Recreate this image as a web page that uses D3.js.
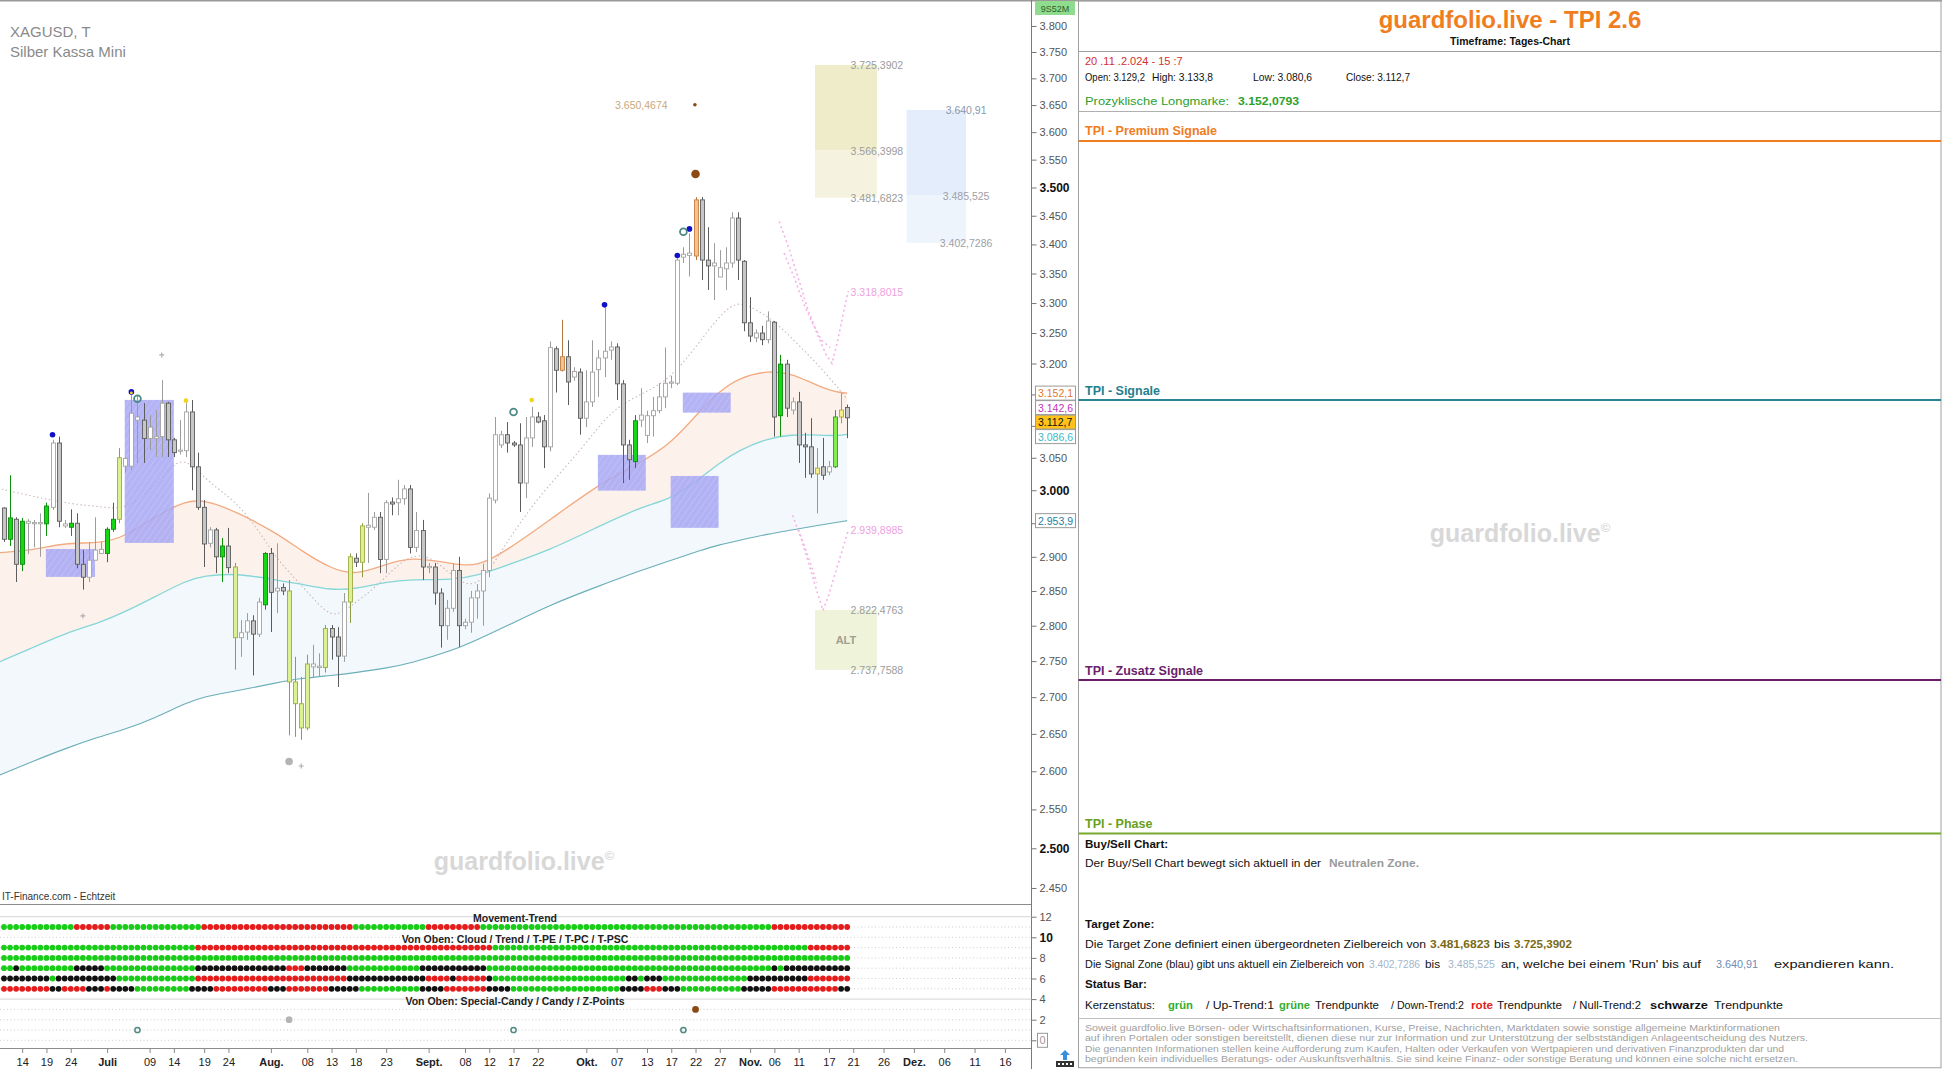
<!DOCTYPE html>
<html>
<head>
<meta charset="utf-8">
<script src="https://cdn.jsdelivr.net/npm/d3@7/dist/d3.min.js"></script>
<style>
html,body{margin:0;padding:0;background:#fff;}
svg{display:block;}
text{font-family:"Liberation Sans",Arial,Helvetica,sans-serif;}
.nar{font-family:"Liberation Sans Narrow","Arial Narrow","Liberation Sans",Arial,sans-serif;}
.pre{white-space:pre;}
</style>
</head>
<body>
<svg id="c" width="1942" height="1069"></svg>
<script>
// ================= DATA =================
// candle k = trading bar index (0 = 12.06.2024 ... 139 = 20.11.2024)
const candleOpen = [2973,2926,2956,2889,2950,2951,2950,2949,2974,3073,
 2949,2944,2950,2889,2870,2895,2905,2905,2941,2956,
 3037,3037,3109,3109,3080,3080,3083,3136,3078,3061,
 3061,3122,3036,2974,2920,2940,2900,2916,2885,2783,
 2791,2807,2788,2830,2905,2850,2855,2850,2721,2691,
 2658,2742,2741,2741,2796,2784,2757,2834,2898,2892,
 2944,2944,2959,2896,2982,2981,2987,3002,2914,2939,
 2886,2885,2847,2800,2825,2880,2800,2805,2840,2850,
 2880,2985,3070,3086,3073,3070,3011,3081,3114,3108,
 3067,3224,3189,3211,3178,3186,3112,3138,3190,3209,
 3222,3227,3167,3070,3044,3109,3085,3116,3124,3146,
 3168,3168,3378,3381,3380,3478,3373,3363,3344,3358,
 3368,3446,3371,3267,3242,3250,3239,3268,3116,3199,
 3125,3138,3070,3067,3025,3036,3028,3036,3114,3129.2];
const candleHigh = [2974,3023,2959,2958,2956,2955,2965,2981,3078,3083,
 2955,2971,2965,2910,2922,2959,2922,2944,2981,3065,
 3051,3149,3149,3136,3117,3125,3173,3138,3081,3109,
 3136,3141,3058,2985,2944,2943,2928,2943,2891,2808,
 2818,2815,2840,2907,2913,2920,2861,2866,2756,2728,
 2759,2773,2761,2801,2801,2798,2847,2905,2905,2950,
 2996,2967,2967,2985,2989,3016,3008,3008,2967,2955,
 2891,2891,2854,2837,2890,2900,2810,2850,2860,2890,
 2995,3114,3092,3106,3076,3104,3114,3130,3122,3117,
 3236,3228,3272,3238,3194,3192,3189,3238,3222,3293,
 3236,3233,3173,3078,3117,3160,3124,3146,3168,3226,
 3180,3376,3395,3419,3483,3483,3430,3402,3390,3395,
 3456,3456,3373,3310,3256,3262,3286,3270,3214,3206,
 3145,3154,3089,3112,3065,3081,3045,3125,3152,3133.8];
const candleLow = [2922,2916,2863,2879,2904,2914,2900,2931,2970,2944,
 2943,2931,2883,2852,2863,2895,2905,2892,2937,2950,
 3027,3031,3042,3042,3062,3051,3051,3051,3051,3055,
 3051,3000,2970,2885,2914,2876,2863,2876,2738,2756,
 2780,2730,2784,2823,2791,2818,2844,2648,2646,2642,
 2655,2727,2728,2734,2752,2714,2749,2804,2885,2870,
 2891,2940,2876,2876,2962,2962,2978,2905,2907,2866,
 2876,2830,2769,2780,2820,2770,2795,2790,2810,2800,
 2870,2980,3065,3058,3067,2967,2988,3067,3104,3034,
 3060,3153,3187,3133,3172,3086,3098,3130,3146,3178,
 3206,3141,3011,3016,3034,3098,3073,3083,3120,3128,
 3160,3165,3368,3345,3373,3339,3322,3305,3344,3322,
 3360,3339,3253,3235,3235,3230,3233,3083,3083,3114,
 3118,3042,3019,3019,2965,3016,3023,3034,3104,3080.6];
const candleClose = [2926,2958,2889,2953,2953,2950,2951,2976,3073,2953,
 2946,2950,2889,2870,2895,2910,2911,2941,2956,3050,
 3049,3120,3114,3080,3098,3083,3136,3078,3058,3062,
 3122,3036,2974,2919,2940,2900,2916,2884,2783,2790,
 2807,2788,2834,2905,2848,2854,2850,2721,2691,2658,
 2746,2746,2743,2796,2784,2757,2834,2900,2892,2946,
 2947,2959,2896,2981,2979,2987,3002,2914,2939,2885,
 2884,2847,2800,2825,2880,2800,2805,2840,2850,2880,
 2988,3086,3086,3073,3070,3011,3081,3114,3106,3067,
 3226,3189,3211,3170,3187,3112,3138,3186,3209,3220,
 3227,3167,3070,3047,3108,3117,3116,3124,3146,3168,
 3170,3373,3383,3385,3478,3373,3363,3368,3360,3368,
 3446,3373,3267,3245,3250,3239,3270,3114,3199,3128,
 3138,3070,3067,3025,3034,3023,3036,3114,3125,3112.7];
// candle colour class per bar (D grey, W white, G green, g light green, Y yellow-green, L yellow, O orange)
const candleClass = "DGDGWWWGWD"+"WGDDWWWGGY"+"WWWDWWWDDW"+"WDDDWDGDYW"+"WDWGDWDYYY"+
  "YWWYDDWYDY"+"WWDWDWWDWD"+"WDDWWDWWWW"+"WWWDDDWWDD"+"WDODWDWWWW"+
  "WDDDGWWWWW"+"WWWWODDWWW"+"WDDDWDWDGD"+"WDDDLDWgLD";

// moving averages sampled at bar positions
const maK        = [-1,5,10,16,20,25,30,33,38,45,49,54,58,63,67,74,78,83,90,98,105,110,115,118,121,126,130,133,137,139];
const maOrange   = [2906,2910,2921,2920,2930,2961,2984,2985,2969,2935,2909,2882,2873,2889,2900,2890,2885,2910,2955,3009,3043,3072,3127,3155,3176,3189,3183,3169,3153,3152.1];
const maTealUp   = [2748,2770,2789,2805,2820,2842,2865,2872,2876,2866,2860,2851,2853,2863,2867,2866,2872,2888,2910,2945,2975,2986,3020,3042,3061,3081,3086,3086,3084,3086.6];
const maTealLow  = [2594,2614,2630,2647,2656,2672,2692,2701,2708,2720,2726,2730,2734,2740,2747,2765,2780,2800,2830,2857,2880,2895,2910,2918,2924,2934,2940,2945,2951,2953.9];
const dotMaK     = [-1,5,11,16,20,24,27,29,31,34,38,42,45,50,54,57,62,66,70,74,78,82,88,95,100,105,110,115,120,123,127,131,135,139];
const dotMaVal   = [3003,2990,2979,2975,2970,3000,3030,3047,3040,3010,2985,2940,2895,2850,2808,2827,2860,2900,2905,2870,2850,2910,2990,3060,3125,3150,3175,3240,3305,3295,3271,3230,3190,3142.6];

// projection paths (pink dotted)
const pinkUpperA = [[127.8,3440],[129.5,3390],[131,3340],[132.5,3290],[134,3250],[135.5,3215],[136.5,3200],[137.5,3240],[138.5,3290],[139.2,3320]];
const pinkUpperB = [[128.6,3385],[130.2,3345],[131.8,3300],[133.2,3268],[134.8,3238],[136.2,3226]];
const pinkLowerA = [[130,2962],[131.5,2925],[133,2880],[134,2850],[135,2822],[136,2845],[137,2875],[138.2,2910],[139.2,2940]];
const pinkLowerB = [[131,2940],[132.5,2902],[134,2862]];

// zones (bar range + price levels)
const targetZoneK = [133.7,143.9], targetZoneLevels = [3481.6823,3566.3998,3725.3902];
const signalZoneK = [148.8,158.6], signalZoneLevels = [3402.7286,3485.525,3640.91];
const altZoneK    = [133.7,143.9], altZoneLevels    = [2737.7588,2822.4763];
const pinkLevels  = [3318.8015,2939.8985];
const markLevel   = {k:113.9, v:3650.4674};
// supply/demand boxes [k0,k1,lowPrice,highPrice]
const blueBoxes = [[6.9,15,2870.5,2911.6],[19.9,28,2920.6,3141.2],[97.9,105.8,2999.4,3054.5],[111.9,119.8,3120.9,3152.9],[109.9,117.8,2943.1,3021.9]];

// markers [k, price]
const blueDots   = [[8,3086],[21,3154],[99,3297],[111,3381],[113,3427]];
const yellowDots = [[30,3140],[87,3141]];
const zPointsPx  = [[22,3143],[84,3122],[112,3422]];
const brownBig   = [[114,3524]];
const greyDots   = [[47,2613]];
const crosses    = [[13,2814],[26,3214],[49,2607]];

// price axis
const priceTicks = d3.range(2450,3801,50);
const priceBoxes = [
  {v:3152.1, fg:"#e0782c", bg:"#ffffff"},
  {v:3142.6, fg:"#c034c0", bg:"#ffffff"},
  {v:3112.7, fg:"#111111", bg:"#ffc21c"},
  {v:3086.6, fg:"#3cb8c6", bg:"#ffffff"},
  {v:2953.9, fg:"#2a7ea0", bg:"#ffffff"}];

// date axis
const dateTickK = [3,7,11,17,24,28,33,37,44,50,54,58,63,70,76,80,84,88,96,101,106,110,114,118,123,127,131,136,140,145,150,155,160,165];
const dateTickLabels = ["14","19","24","Juli","09","14","19","24","Aug.","08","13","18","23","Sept.","08","12","17","22","Okt.","07","13","17","22","27","Nov.","06","11","17","21","26","Dez.","06","11","16"];
const monthLabels = ["Juli","Aug.","Sept.","Okt.","Nov.","Dez."];

// status bar rows (run-length: colour, count of bars)
const movementRuns = [["G",12],["R",6],["G",15],["R",25],["G",12],["R",9],["G",48],["R",13]];
const cloudRuns    = [["G",32],["R",49],["G",52],["R",7]];
const trendRuns    = [["G",140]];
const tpeRuns      = [["G",2],["B",1],["G",9],["B",5],["G",15],["B",15],["R",3],["B",7],["G",12],["B",11],["G",47],["B",1],["G",1],["B",11]];
const tpcRuns      = [["B",8],["G",1],["B",10],["G",13],["R",25],["B",13],["R",4],["B",1],["R",5],["B",1],["G",22],["B",2],["G",1],["B",3],["G",14],["B",10],["R",7]];
const tpscRuns     = [["R",8],["B",2],["R",4],["B",3],["R",1],["B",4],["G",9],["B",4],["R",9],["B",3],["R",7],["B",5],["G",10],["B",4],["R",7],["B",4],["G",18],["B",4],["R",3],["B",3],["G",10],["B",5],["R",11],["B",2]];
const statusRowLevels = [11,9,8,7,6,5];
const indTicks = [0,2,4,6,8,10,12];

// ================= RENDER =================
const loc = d3.formatLocale({decimal:",", thousands:".", grouping:[3], currency:["",""]});
const fmt0 = loc.format(",.0f"), fmt1 = loc.format(",.1f"), fmt4 = loc.format(",.4f");
const fmtTrim = v => fmt4(v).replace(/0+$/,"").replace(/,$/,"");

const svg = d3.select("#c");
svg.append("rect").attr("width",1942).attr("height",1069).attr("fill","#fff");

const x  = d3.scaleLinear().domain([0,165]).range([4, 4+6.066*165]);
const y  = d3.scaleLog().domain([2430.1,3850.6]).range([904,0]);
const yi = d3.scaleLinear().domain([0,12]).range([1040.3,916.7]);
const AX = 1031.5;

const defs = svg.append("defs");
defs.append("clipPath").attr("id","pc").append("rect").attr("x",0).attr("y",1).attr("width",AX).attr("height",903);
const g = svg.append("g").attr("clip-path","url(#pc)");

// title
svg.append("text").attr("x",10).attr("y",37).attr("font-size",15).attr("fill","#8a8a8a").text("XAGUSD, T");
svg.append("text").attr("x",10).attr("y",57).attr("font-size",15).attr("fill","#8a8a8a").text("Silber Kassa Mini");

// watermark
function watermark(cx, by){
  const t = svg.append("text").attr("x",cx).attr("y",by).attr("text-anchor","middle")
    .attr("font-size",25).attr("font-weight","bold").attr("fill","#d8d8d8");
  t.append("tspan").text("guardfolio.live");
  t.append("tspan").attr("font-size",13).attr("dy",-10).text("©");
}
watermark(524, 870);
watermark(1520, 542);

// cloud fills (faint)
const idx = d3.range(maK.length);
g.append("path").datum(idx).attr("fill","#fdf1ec")
  .attr("d", d3.area().curve(d3.curveBasis).x(i=>x(maK[i])).y0(i=>y(maTealUp[i])).y1(i=>y(maOrange[i])));
g.append("path").datum(idx).attr("fill","#f2f8fb")
  .attr("d", d3.area().curve(d3.curveBasis).x(i=>x(maK[i])).y0(i=>y(maTealLow[i])).y1(i=>y(maTealUp[i])));
function maLine(vals, col, w){
  g.append("path").datum(idx).attr("fill","none").attr("stroke",col).attr("stroke-width",w)
   .attr("d", d3.line().curve(d3.curveBasis).x(i=>x(maK[i])).y(i=>y(vals[i])));
}
maLine(maTealLow,"#6aaeb9",1.1);
maLine(maTealUp,"#86d6d8",1.3);
maLine(maOrange,"#f2ab80",1.3);
g.append("path").datum(d3.range(dotMaK.length)).attr("fill","none").attr("stroke","#cdb8b8").attr("stroke-width",1.1)
  .attr("stroke-dasharray","1.5,2.5")
  .attr("d", d3.line().curve(d3.curveBasis).x(i=>x(dotMaK[i])).y(i=>y(dotMaVal[i])));

// blue boxes
const hatch = defs.append("pattern").attr("id","hatch").attr("patternUnits","userSpaceOnUse").attr("width",5).attr("height",5).attr("patternTransform","rotate(35)");
hatch.append("rect").attr("width",5).attr("height",5).attr("fill","#a6a6f3");
hatch.append("line").attr("x1",0).attr("y1",0).attr("x2",0).attr("y2",5).attr("stroke","#bcbcf7").attr("stroke-width",1.2);
g.selectAll(".bbox").data(blueBoxes).join("rect").attr("class","bbox")
  .attr("x",d=>x(d[0])).attr("width",d=>x(d[1])-x(d[0]))
  .attr("y",d=>y(d[3])).attr("height",d=>y(d[2])-y(d[3]))
  .attr("fill","url(#hatch)").attr("opacity",0.85);

// zones
function zoneRect(kr, lo, hi, fill){
  g.append("rect").attr("x",x(kr[0])).attr("width",x(kr[1])-x(kr[0])).attr("y",y(hi)).attr("height",y(lo)-y(hi)).attr("fill",fill);
}
zoneRect(targetZoneK, targetZoneLevels[1], targetZoneLevels[2], "#efecc9");
zoneRect(targetZoneK, targetZoneLevels[0], targetZoneLevels[1], "#f5f3df");
zoneRect(signalZoneK, signalZoneLevels[1], signalZoneLevels[2], "#e3edfb");
zoneRect(signalZoneK, signalZoneLevels[0], signalZoneLevels[1], "#eef4fc");
zoneRect(altZoneK, altZoneLevels[0], altZoneLevels[1], "#eff3d9");
g.append("text").attr("x",(x(altZoneK[0])+x(altZoneK[1]))/2).attr("y",y(2780)+4).attr("text-anchor","middle")
  .attr("font-size",11).attr("font-weight","bold").attr("fill","#a0a090").text("ALT");

// pink projections
[pinkUpperA,pinkUpperB,pinkLowerA,pinkLowerB].forEach(p=>{
  g.append("path").datum(p).attr("fill","none").attr("stroke","#f3b4e6").attr("stroke-width",1.6).attr("stroke-dasharray","2,3")
   .attr("d", d3.line().x(d=>x(d[0])).y(d=>y(d[1])));
});

function levelLabel(k, v, col, anchor){
  g.append("text").attr("x",x(k)).attr("y",y(v)+4).attr("text-anchor",anchor||"middle")
   .attr("font-size",10.5).attr("fill",col).text(fmtTrim(v));
}
targetZoneLevels.forEach(v=>levelLabel(targetZoneK[1],v,"#9c9c9c"));
altZoneLevels.forEach(v=>levelLabel(altZoneK[1],v,"#9c9c9c"));
signalZoneLevels.forEach((v,i)=>levelLabel(signalZoneK[1],v, i===2?"#8a9ab0":"#a0a0a8"));
pinkLevels.forEach(v=>levelLabel(targetZoneK[1],v,"#ee9fe0"));
levelLabel(markLevel.k-4.5, markLevel.v, "#c9a87c", "end");
g.append("circle").attr("cx",x(markLevel.k)).attr("cy",y(markLevel.v)).attr("r",1.8).attr("fill","#8b4a14");

// candles
const CS = {
  D:{f:"#c6c6c6",s:"#5c5c5c",w:"#5c5c5c"},
  W:{f:"#ffffff",s:"#a4a4a4",w:"#9c9c9c"},
  G:{f:"#16d716",s:"#0b8a0b",w:"#0b920b"},
  g:{f:"#80ee4c",s:"#3b9a22",w:"#3b9a22"},
  Y:{f:"#dcf292",s:"#9dab45",w:"#8f9d45"},
  L:{f:"#f5f08c",s:"#b0a844",w:"#a6a044"},
  O:{f:"#f9c18a",s:"#c08046",w:"#b8763e"}};
const bars = d3.range(candleOpen.length);
const cg = g.append("g");
cg.selectAll(".wick").data(bars).join("line").attr("class","wick")
  .attr("x1",k=>Math.round(x(k))+0.5).attr("x2",k=>Math.round(x(k))+0.5)
  .attr("y1",k=>y(candleHigh[k])).attr("y2",k=>y(candleLow[k]))
  .attr("stroke",k=>CS[candleClass[k]].w).attr("stroke-width",1);
cg.selectAll(".body").data(bars).join("rect").attr("class","body")
  .attr("x",k=>Math.round(x(k))-1.5).attr("width",4)
  .attr("y",k=>y(Math.max(candleOpen[k],candleClose[k])))
  .attr("height",k=>Math.max(1.2, y(Math.min(candleOpen[k],candleClose[k]))-y(Math.max(candleOpen[k],candleClose[k]))))
  .attr("fill",k=>CS[candleClass[k]].f).attr("stroke",k=>CS[candleClass[k]].s).attr("stroke-width",0.9);

// markers
g.selectAll(".bd").data(blueDots).join("circle").attr("cx",d=>x(d[0])).attr("cy",d=>y(d[1])).attr("r",2.8).attr("fill","#1010c8");
g.append("circle").attr("cx",x(21)).attr("cy",y(3154)+1).attr("r",1.4).attr("fill","#f3d21a");
g.selectAll(".yd").data(yellowDots).join("circle").attr("cx",d=>x(d[0])).attr("cy",d=>y(d[1])).attr("r",2.3).attr("fill","#f3d21a");
g.selectAll(".zp").data(zPointsPx).join("circle").attr("cx",d=>x(d[0])).attr("cy",d=>y(d[1])).attr("r",3.4).attr("fill","none").attr("stroke","#4d8a84").attr("stroke-width",1.8);
g.selectAll(".bb").data(brownBig).join("circle").attr("cx",d=>x(d[0])).attr("cy",d=>y(d[1])).attr("r",4.3).attr("fill","#8b4a14");
g.selectAll(".gd").data(greyDots).join("circle").attr("cx",d=>x(d[0])).attr("cy",d=>y(d[1])).attr("r",3.8).attr("fill","#b4b4b4");
g.selectAll(".cr").data(crosses).join("path").attr("d",d=>{const cx=x(d[0]),cy=y(d[1]);return `M${cx-2.5},${cy}H${cx+2.5}M${cx},${cy-2.5}V${cy+2.5}`;})
  .attr("stroke","#b0b0b0").attr("stroke-width",1.2);

svg.append("text").attr("x",2).attr("y",900).attr("font-size",10).attr("fill","#333").text("IT-Finance.com - Echtzeit");

// frame lines
svg.append("line").attr("x1",0).attr("x2",1942).attr("y1",0.75).attr("y2",0.75).attr("stroke","#999").attr("stroke-width",1.5);
svg.append("line").attr("x1",0).attr("x2",AX).attr("y1",904.5).attr("y2",904.5).attr("stroke","#8c8c8c");
svg.append("line").attr("x1",0).attr("x2",AX).attr("y1",1048.5).attr("y2",1048.5).attr("stroke","#8c8c8c");
svg.append("line").attr("x1",AX).attr("x2",AX).attr("y1",0).attr("y2",1069).attr("stroke","#7a7a7a");

// value boxes with collision avoidance (computed first so covered tick labels can be hidden)
const pb = priceBoxes.map(d=>({...d, y:y(d.v)})).sort((a,b)=>a.y-b.y);
for(let i=1;i<pb.length;i++){ if(pb[i].y < pb[i-1].y+14.5) pb[i].y = pb[i-1].y+14.5; }

// price axis
const axR = d3.axisRight(y).tickValues(priceTicks).tickFormat(fmt0).tickSize(5).tickPadding(3);
const ga = svg.append("g").attr("transform",`translate(${AX},0)`).call(axR);
ga.select(".domain").remove();
ga.selectAll("line").attr("stroke","#777");
ga.selectAll("text").attr("font-family","Liberation Sans, Arial, sans-serif")
  .attr("font-size",d=>d%500===0?12:11).attr("font-weight",d=>d%500===0?"bold":"normal")
  .attr("fill",d=>d%500===0?"#111":"#555");
ga.selectAll(".tick").filter(d=>pb.some(b=>Math.abs(b.y-y(d))<12)).select("text").remove();

const bgG = svg.append("g");
pb.forEach(d=>{
  bgG.append("rect").attr("x",1035.5).attr("y",d.y-7).attr("width",40).attr("height",14).attr("fill",d.bg).attr("stroke","#9a9a9a");
  bgG.append("text").attr("x",1038).attr("y",d.y+4).attr("font-size",10.5).attr("fill",d.fg).text(fmt1(d.v));
});
svg.append("rect").attr("x",1035).attr("y",1).attr("width",40).attr("height",14).attr("fill","#8fdc8f");
svg.append("text").attr("x",1055).attr("y",12).attr("text-anchor","middle").attr("font-size",9).attr("fill","#2b5f2b").text("9S52M");

// indicator pane
const ig = svg.append("g");
d3.range(0,13).forEach(v=>{
  const solid = (v===12||v===4);
  ig.append("line").attr("x1",0).attr("x2",AX).attr("y1",yi(v)).attr("y2",yi(v))
    .attr("stroke",solid?"#d4d4d4":"#cfcfcf").attr("stroke-dasharray",solid?null:"1,2.5");
});
const dotCol = {G:"#18cc18", R:"#e41c1c", B:"#111111"};
[movementRuns,cloudRuns,trendRuns,tpeRuns,tpcRuns,tpscRuns].forEach((runs,ri)=>{
  const seq = [];
  runs.forEach(([c,n])=>{ for(let j=0;j<n;j++) seq.push(c); });
  ig.selectAll(null).data(seq).join("circle").attr("cx",(c,k)=>x(k)).attr("cy",yi(statusRowLevels[ri])).attr("r",2.9).attr("fill",c=>dotCol[c]);
});
ig.selectAll(null).data(brownBig).join("circle").attr("cx",d=>x(d[0])).attr("cy",yi(3)).attr("r",3.4).attr("fill","#8b4a14");
ig.selectAll(null).data(greyDots).join("circle").attr("cx",d=>x(d[0])).attr("cy",yi(2)).attr("r",3.4).attr("fill","#b4b4b4");
ig.selectAll(null).data(zPointsPx).join("circle").attr("cx",d=>x(d[0])).attr("cy",yi(1)).attr("r",2.6).attr("fill","none").attr("stroke","#4d8a84").attr("stroke-width",1.5);
[["Movement-Trend",11.85],["Von Oben: Cloud / Trend / T-PE / T-PC / T-PSC",9.85],["Von Oben: Special-Candy / Candy / Z-Points",3.85]].forEach(([t,v])=>{
  ig.append("text").attr("class","nar").attr("x",515).attr("y",yi(v)+4).attr("text-anchor","middle")
    .attr("font-size",10.5).attr("font-weight","bold").attr("fill","#222").text(t);
});
const axI = d3.axisRight(yi).tickValues(indTicks).tickFormat(d=>d===0?"0":d).tickSize(5).tickPadding(3);
const gi = svg.append("g").attr("transform",`translate(${AX},0)`).call(axI);
gi.select(".domain").remove();
gi.selectAll("line").attr("stroke","#777");
gi.selectAll("text").attr("font-family","Liberation Sans, Arial, sans-serif").attr("font-size",d=>d===10?12:11)
  .attr("font-weight",d=>d===10?"bold":"normal").attr("fill",d=>d===10?"#111":"#555");
gi.selectAll(".tick").filter(d=>d===0).select("text").attr("fill","#999");
svg.append("rect").attr("x",1037.5).attr("y",yi(0)-7).attr("width",10).attr("height",14).attr("fill","none").attr("stroke","#999");

// date axis
const axB = d3.axisBottom(x).tickValues(dateTickK).tickFormat((d,i)=>dateTickLabels[i]).tickSize(4).tickPadding(5);
const gb = svg.append("g").attr("transform","translate(0,1049)").call(axB);
gb.select(".domain").remove();
gb.selectAll("line").attr("stroke","#888");
gb.selectAll("text").attr("class","nar").attr("font-size",11).attr("fill","#222")
  .attr("font-weight",(d,i)=>monthLabels.includes(dateTickLabels[i])?"bold":"normal");

// small icon bottom right
svg.append("rect").attr("x",1056).attr("y",1061).attr("width",18).attr("height",6).attr("fill","#333");
d3.range(4).forEach(i=>svg.append("rect").attr("x",1058+i*4).attr("y",1063).attr("width",2).attr("height",2).attr("fill","#fff"));
svg.append("path").attr("d","M1065,1050 L1070,1055 L1067,1055 L1067,1060 L1063,1060 L1063,1055 L1060,1055 Z").attr("fill","#3a8ee0");

// ================= RIGHT PANEL =================
const RX = 1078.5, RL = 1085;
const rp = svg.append("g");
rp.append("rect").attr("x",RX).attr("y",0.75).attr("width",1941-RX).attr("height",1067).attr("fill","none").attr("stroke","#a0a0a0");
rp.append("text").attr("x",1510).attr("y",28).attr("text-anchor","middle").attr("font-size",24).attr("font-weight","bold").attr("fill","#f07d1e").text("guardfolio.live - TPI 2.6");
rp.append("text").attr("x",1510).attr("y",45).attr("text-anchor","middle").attr("font-size",10.5).attr("font-weight","bold").attr("fill","#111").text("Timeframe: Tages-Chart");
function hline(yy,col,w){ rp.append("line").attr("x1",RX).attr("x2",1941).attr("y1",yy).attr("y2",yy).attr("stroke",col).attr("stroke-width",w); }
hline(51.5,"#a0a0a0",1.2);
hline(111.5,"#b0b0b0",1);
hline(141,"#f07d1e",2);
hline(400,"#2a8595",2);
hline(680,"#6b1f6b",2);
hline(833.5,"#79aa2e",2);
hline(1018.5,"#c0c0c0",1);
rp.append("text").attr("x",RL).attr("y",65).attr("font-size",11).attr("fill","#d43030").attr("class","pre").text("20 .11 .2.024 - 15 :7");
[["Open: 3.129,2",1085,60],["High: 3.133,8",1152,61],["Low: 3.080,6",1253,59],["Close: 3.112,7",1346,64]].forEach(([t,xx,w])=>
  rp.append("text").attr("x",xx).attr("y",81).attr("font-size",11.5).attr("fill","#111").attr("textLength",w).attr("lengthAdjust","spacingAndGlyphs").text(t));
rp.append("text").attr("x",RL).attr("y",104.5).attr("font-size",11.5).attr("fill","#2ca02c").attr("textLength",144).attr("lengthAdjust","spacingAndGlyphs").text("Prozyklische Longmarke:");
rp.append("text").attr("x",1238).attr("y",104.5).attr("font-size",11.5).attr("font-weight","bold").attr("fill","#2ca02c").attr("textLength",61).attr("lengthAdjust","spacingAndGlyphs").text("3.152,0793");
[["TPI - Premium Signale",135,"#f07d1e"],["TPI - Signale",395,"#1f7f8f"],["TPI - Zusatz Signale",675,"#6b1f6b"],["TPI - Phase",828,"#6a9f20"]].forEach(([t,yy,c])=>
  rp.append("text").attr("x",RL).attr("y",yy).attr("font-size",12.5).attr("font-weight","bold").attr("fill",c).text(t));

// info lines: segments [text, colour, weight, x-position, width]; line font size fs
const infoLines = [
  {y:847.5, fs:11.6, segs:[["Buy/Sell Chart:","#111","bold",1085,0]]},
  {y:867, fs:11.6, segs:[["Der Buy/Sell Chart bewegt sich aktuell in der","#111","normal",1085,236],["Neutralen Zone.","#9a9a9a","bold",1329,90]]},
  {y:928, fs:11.6, segs:[["Target Zone:","#111","bold",1085,0]]},
  {y:948, fs:11.6, segs:[["Die Target Zone definiert einen übergeordneten Zielbereich von","#111","normal",1085,341],["3.481,6823","#7a6a14","bold",1430,60],["bis","#111","normal",1494,16],["3.725,3902","#7a6a14","bold",1514,58]]},
  {y:967.5, fs:11, segs:[["Die Signal Zone (blau) gibt uns aktuell ein Zielbereich von","#111","normal",1085,279],["3.402,7286","#a4b6cc","normal",1369,51],["bis","#111","normal",1425,15],["3.485,525","#a4b6cc","normal",1448,47],["an, welche bei einem 'Run' bis auf","#111","normal",1501,200],["3.640,91","#6f8cb4","normal",1716,42],["expandieren kann.","#111","normal",1774,120]]},
  {y:987.5, fs:11.6, segs:[["Status Bar:","#111","bold",1085,0]]},
  {y:1008.5, fs:11.6, segs:[["Kerzenstatus:","#111","normal",1085,70],["grün","#2fae2f","bold",1168,25],["/ Up-Trend:1","#111","normal",1206,68],["grüne","#2fae2f","bold",1279,31],["Trendpunkte","#111","normal",1315,64],["/ Down-Trend:2","#111","normal",1391,73],["rote","#e02020","bold",1471,22],["Trendpunkte","#111","normal",1497,65],["/ Null-Trend:2","#111","normal",1573,68],["schwarze","#111","bold",1650,58],["Trendpunkte","#111","normal",1714,69]]}
];
infoLines.forEach(l=>{
  l.segs.forEach(s=>{
    const t = rp.append("text").attr("x",s[3]).attr("y",l.y).attr("font-size",l.fs).attr("fill",s[1]).attr("font-weight",s[2]).text(s[0]);
    if(s[4]) t.attr("textLength",s[4]).attr("lengthAdjust","spacingAndGlyphs");
  });
});
const disclaimer = [
  "Soweit guardfolio.live Börsen- oder Wirtschaftsinformationen, Kurse, Preise, Nachrichten, Marktdaten sowie sonstige allgemeine Marktinformationen",
  "auf ihren Portalen oder sonstigen bereitstellt, dienen diese nur zur Information und zur Unterstützung der selbstständigen Anlageentscheidung des Nutzers.",
  "Die genannten Informationen stellen keine Aufforderung zum Kaufen, Halten oder Verkaufen von Wertpapieren und derivativen Finanzprodukten dar und",
  "begründen kein individuelles Beratungs- oder Auskunftsverhältnis. Sie sind keine Finanz- oder sonstige Beratung und können eine solche nicht ersetzen."];
const disclaimerW = [695,723,699,713];
disclaimer.forEach((t,i)=>rp.append("text").attr("x",RL).attr("y",1031+i*10.4).attr("font-size",9.5).attr("fill","#a0a0a0")
  .attr("textLength",disclaimerW[i]).attr("lengthAdjust","spacingAndGlyphs").text(t));
</script>
</body>
</html>
